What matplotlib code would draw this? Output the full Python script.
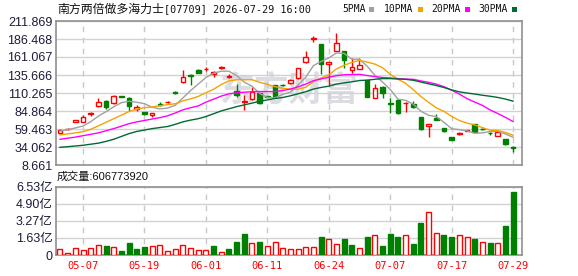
import numpy as np
import pandas as pd
import matplotlib
matplotlib.use("Agg")
import matplotlib.pyplot as plt
from matplotlib.patches import Rectangle

plt.rcParams['font.family'] = ['Liberation Sans', 'Noto Sans CJK SC']

# ---- data ----
title_cn = "南方两倍做多海力士"
title_rest = "[07709] 2026-07-29 16:00"
vol_text = "成交量:606773920"
watermark = "东方财富"

holidays = ["2026-05-25", "2026-06-19", "2026-07-01"]
days = [d for d in pd.bdate_range("2026-05-04", "2026-07-29") if d.strftime("%Y-%m-%d") not in holidays]
dates = [d.strftime("%m-%d") for d in days]
tick_labels = ["05-07", "05-19", "06-01", "06-11", "06-24", "07-07", "07-17", "07-29"]

opens = [53.4, 59, 70, 70, 80.5, 92, 99, 95.7, 106, 103.6, 87.7, 83, 79.5, 95, 97, 111.2, 125.4, 136, 142.7, 143.5,
         136.7, 146, 133, 113, 97.5, 101.8, 109.8, 106, 121.6, 122, 124, 131, 153.6, 186.5, 179, 150.8, 170, 169, 142.7, 144.1,
         128.6, 103.2, 119, 95.5, 100.4, 95.5, 94.3, 76.8, 64, 75.4, 60.5, 48.2, 52.3, 56.5, 66.1, 60, 54, 50, 45.4, 33.6]
highs = [59, 61, 72.5, 79, 84, 103.6, 100, 108, 106.5, 104, 93, 84, 82, 97, 99, 113, 142.7, 137, 143.5, 147,
         141, 148.5, 137, 122.5, 107.5, 119, 110.5, 106.5, 122, 123, 129.5, 146, 170, 191, 180, 154, 195, 169.5, 159, 159,
         129, 122.5, 119.5, 103, 101, 97, 99, 77, 66.5, 80.2, 61, 48.5, 55, 58.5, 66.5, 60.5, 55, 56, 46, 35.9]
lows = [53, 58.5, 69.8, 69.5, 78, 91, 87, 95, 104.5, 85, 85.5, 79.5, 77, 92, 96.5, 109, 125, 121.5, 138.5, 141.5,
        133, 144.5, 131, 105, 86.3, 101, 95, 104.5, 106, 120, 123.5, 130.5, 153, 182, 137, 121.6, 169.5, 145, 138, 143.5,
        104.5, 102.8, 103.5, 82, 81, 83, 89.5, 58.5, 48.6, 72, 55, 44, 50.5, 56, 55, 58, 51.5, 49.5, 37.5, 26.6]
closes = [58.1, 60, 72, 76.4, 82, 98, 91, 106.5, 105.3, 92, 91, 81, 81.6, 93.3, 98, 110.5, 132.4, 134.5, 139, 144.5,
          140.3, 147, 134, 108, 98.5, 112, 95.7, 105.3, 106.5, 121.3, 129, 145.5, 160.8, 187.5, 151, 153.6, 181, 157.5, 146.8, 150.3,
          105, 116.9, 110, 94.5, 81.6, 96.6, 90.1, 59.5, 66, 72.2, 56.7, 44.4, 53.3, 57.5, 55.7, 59.3, 53.2, 55.7, 37.9, 32.8]
# volume in 亿 shares
volumes = [0.57, 0.16, 0.64, 0.51, 0.64, 0.93, 0.86, 0.76, 0.38, 1.15, 0.57, 0.76, 0.83, 0.93, 0.38, 0.54, 0.93, 0.67, 0.48, 0.51,
           0.86, 0.26, 0.57, 1.24, 2.0, 1.12, 1.24, 0.83, 1.21, 0.64, 0.54, 0.54, 0.76, 0.76, 1.72, 1.53, 1.05, 1.53, 0.96, 0.64,
           1.72, 1.88, 0.86, 2.0, 1.72, 1.88, 1.05, 3.06, 4.11, 2.07, 1.91, 1.72, 1.88, 1.69, 1.53, 1.21, 1.15, 1.12, 2.77, 6.0677392]

ma5 = [56.6, 58.5, 61, 63.7, 69.7, 77.7, 83.9, 90.8, 96.6, 98.6, 97.2, 95.2, 90.2, 87.8, 89, 92.9, 103.2, 113.7, 122.9, 132.2,
       138.1, 141.1, 141, 134.8, 125.6, 119.9, 109.6, 103.9, 103.6, 108.2, 111.6, 121.5, 132.6, 148.8, 154.8, 159.7, 166.8, 166.1, 158, 157.8,
       148.1, 135.3, 125.8, 115.3, 101.6, 99.9, 94.6, 84.5, 78.8, 76.9, 68.9, 59.8, 58.5, 56.8, 53.5, 54.0, 55.8, 56.3, 52.4, 47.8]
ma10 = [51, 52.5, 54, 55.7, 59, 64, 69, 74, 79, 84.2, 87.5, 89.6, 90.5, 92.2, 93.8, 95.1, 99.2, 102, 105.4, 110.6,
        115.5, 122.2, 127.4, 128.9, 128.9, 129, 125.4, 122.5, 119.2, 116.9, 115.8, 115.6, 118.3, 126.2, 131.5, 135.7, 144.2, 149.4, 153.4, 156.3,
        153.9, 151.1, 146, 136.7, 129.7, 124, 115, 105.2, 97.1, 89.3, 84.4, 77.2, 71.5, 67.8, 65.2, 61.5, 57.8, 57.4, 54.6, 50.7]
ma20 = [44.9, 46.5, 48, 50, 52, 54, 57, 60, 63.5, 67, 69.5, 71.5, 73.5, 75.5, 78, 82, 86.5, 89.5, 92, 97.4,
        101.5, 105.9, 109, 110.6, 111.4, 112.1, 112.3, 112.3, 112.3, 113.8, 115.7, 118.9, 122.9, 127.6, 130.2, 132.4, 134.8, 136, 136.3, 136.6,
        134.9, 133.4, 132.2, 131.5, 130.6, 129.9, 129.6, 127.3, 125.3, 122.8, 119.2, 114.2, 108.8, 102.3, 97.5, 92.8, 86.4, 81.3, 75.9, 70]
ma30 = [33.6, 34.5, 35.5, 36.5, 38, 39.5, 42, 45, 49, 53, 56, 58, 60, 61.5, 63, 66, 69.5, 72, 74, 77,
        81, 85, 88, 91, 93.5, 96, 98.5, 100.5, 102.5, 103.9, 106.3, 109.1, 112.1, 115.8, 118.1, 119.9, 122.9, 124.6, 126, 127.9,
        128.4, 129.6, 130.6, 130.6, 130, 129.6, 128.2, 125.7, 123.2, 120.8, 118, 114.6, 111.9, 110.2, 108.8, 107.1, 105.7, 104, 101.7, 98.8]

price_ticks = [8.661, 34.062, 59.463, 84.864, 110.265, 135.666, 161.067, 186.468, 211.869]
vol_ticks = [0, 1.6325, 3.265, 4.8975, 6.53]
vol_tick_labels = ["0", "1.63亿", "3.27亿", "4.90亿", "6.53亿"]

ma_names = ["5PMA", "10PMA", "20PMA", "30PMA"]
ma_colors = ["#a0a0a0", "#f5a300", "#ff00ff", "#006a35"]

RED = "#ff0000"
GREEN = "#008000"
FRAME = "#909090"
GRID = "#d2d2d2"
LABEL = "#1c1c3c"

W, H = 578, 276
fig = plt.figure(figsize=(W / 100, H / 100), dpi=100)
fig.patch.set_facecolor("white")
ax = fig.add_axes([56 / W, 1 - 165 / H, 466 / W, 144 / H])
axv = fig.add_axes([56 / W, 1 - 255 / H, 466 / W, 68.3 / H])

x = np.arange(len(closes))
o = np.array(opens)
c = np.array(closes)
up = c >= o
ccol = [RED if u else GREEN for u in up]
fcol = ["white" if u else GREEN for u in up]

# candles
ax.vlines(x, lows, highs, colors=ccol, lw=1, zorder=3)
ax.bar(x, np.abs(c - o), bottom=np.minimum(o, c), width=0.6,
       color=fcol, edgecolor=ccol, linewidth=1, zorder=4)

# moving averages
for vals, col in zip([ma5, ma10, ma20, ma30], ma_colors):
    ax.plot(x, vals, color=col, lw=1, zorder=5)

# volume: colour by close vs previous close
vup = [True] + [closes[i] >= closes[i - 1] for i in range(1, len(closes))]
vcol = [RED if u else GREEN for u in vup]
vfc = ["white" if u else GREEN for u in vup]
axv.bar(x, volumes, width=0.65, color=vfc, edgecolor=vcol, linewidth=1, zorder=4)

tick_pos = [dates.index(t) for t in tick_labels]

for a in (ax, axv):
    a.set_xlim(-0.52, 60.16)
    a.set_xticks(tick_pos)
    a.grid(axis="x", color="#c8c8c8", lw=1, ls=(0, (4, 4)), zorder=1)
    a.grid(axis="y", color=GRID, lw=1, ls="-", zorder=1)
    a.set_axisbelow(True)
    for s in a.spines.values():
        s.set_color(FRAME)
        s.set_linewidth(1.2)
    a.tick_params(length=0, labelsize=9, labelcolor=LABEL, pad=2.5)

ax.set_ylim(price_ticks[0], price_ticks[-1])
ax.set_yticks(price_ticks)
ax.set_yticklabels([f"{t:.3f}" for t in price_ticks])
ax.set_xticklabels([])

axv.set_ylim(0, vol_ticks[-1])
axv.set_yticks(vol_ticks)
axv.set_yticklabels(vol_tick_labels)
axv.set_xticks(tick_pos)
axv.set_xticklabels(tick_labels, color=RED, family="DejaVu Sans Mono", fontsize=7.5)
axv.tick_params(axis="x", pad=4)

# watermark
ax.text(0.50, 0.52, watermark, transform=ax.transAxes, ha="center", va="center",
        fontsize=25, fontweight="bold", color="#dcdce2", family="Noto Sans CJK SC", zorder=0.5)

# header texts
fig.text(57 / W, 1 - 9.5 / H, title_cn, va="center", ha="left", fontsize=8.6, family="Noto Sans CJK SC", color="#111111")
fig.text(164 / W, 1 - 9.5 / H, title_rest, va="center", ha="left", fontsize=7.3, family="DejaVu Sans Mono", color="#111111")

leg_x = [342, 384, 431, 478]
for name, col, lx in zip(ma_names, ma_colors, leg_x):
    fig.text(lx / W, 1 - 9.5 / H, name, va="center", ha="left", fontsize=7.0,
             family="DejaVu Sans Mono", color="#111111")
    sx = lx + 6.1 * len(name) + 3
    fig.patches.append(Rectangle((sx / W, 1 - 12 / H), 5 / W, 5 / H, transform=fig.transFigure,
                                 facecolor=col, edgecolor="none"))

fig.text(57 / W, 1 - 177 / H, vol_text, va="center", ha="left", fontsize=8, color="#111111")

fig.savefig("out.png", dpi=100)
